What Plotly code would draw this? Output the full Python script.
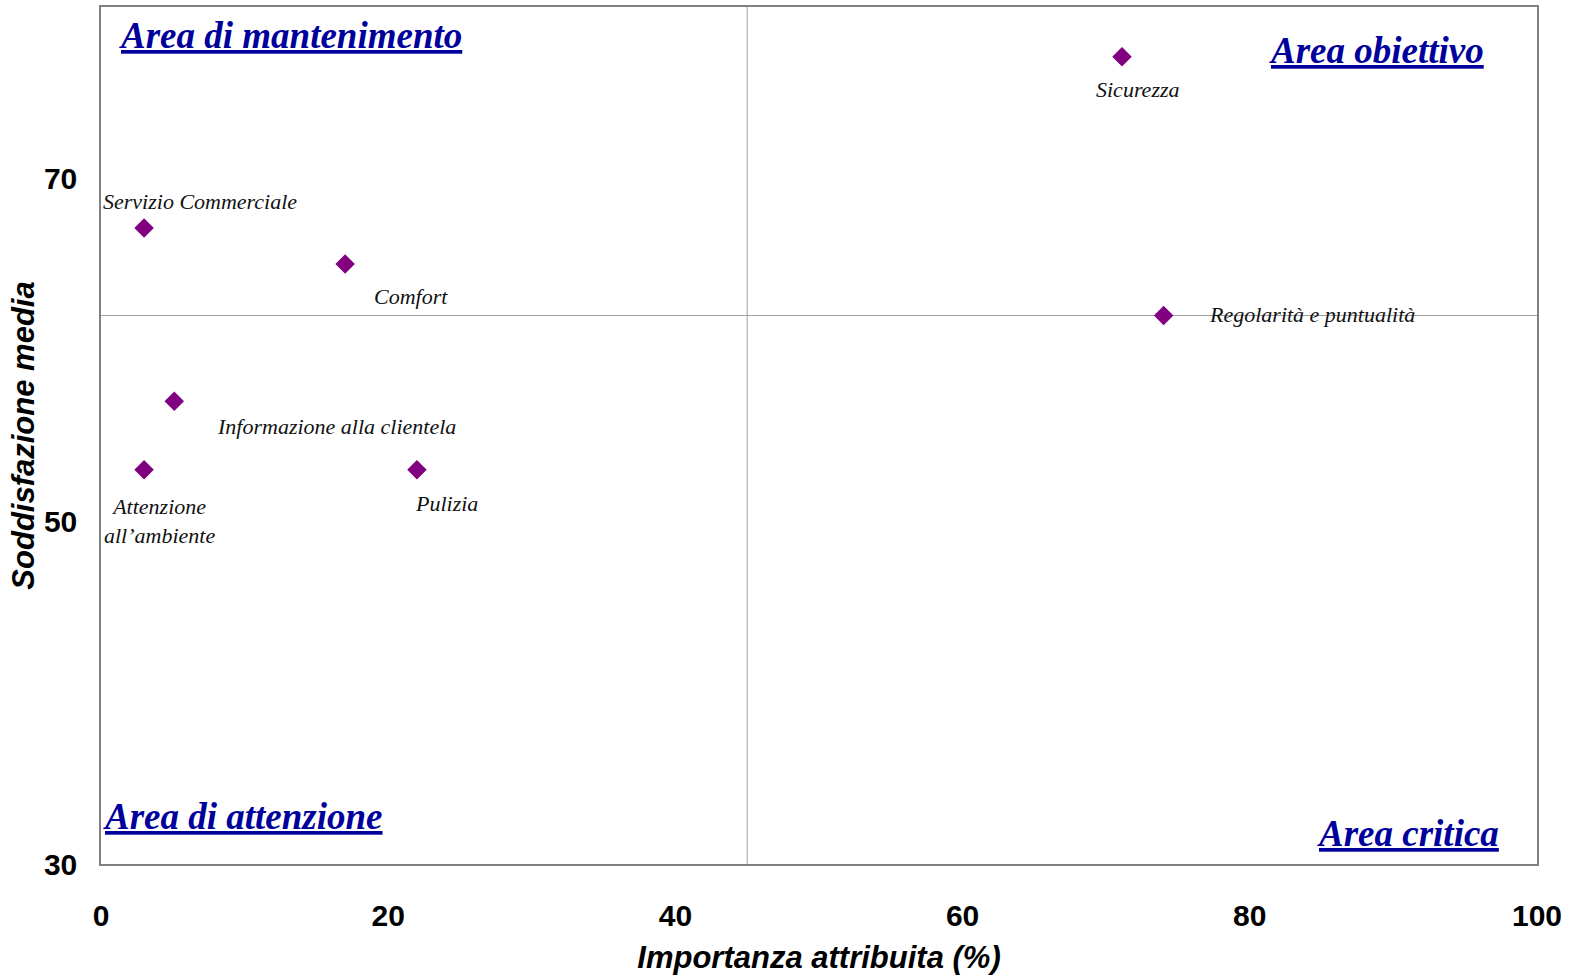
import plotly.graph_objects as go

# Data
labels = ["Sicurezza", "Regolarità e puntualità", "Servizio Commerciale", "Comfort",
          "Informazione alla clientela", "Attenzione<br>all’ambiente", "Pulizia"]
importanza = [71.1, 74.0, 3.0, 17.0, 5.1, 3.0, 22.0]
soddisfazione = [77.1, 62.0, 67.1, 65.0, 57.0, 53.0, 53.0]

x_threshold = 45
y_threshold = 62.0

x_ticks = [0, 20, 40, 60, 80, 100]
y_ticks = [30, 50, 70]

# label offsets (pixels) per point: (xshift, yshift, xanchor)
label_offsets = [(16, -33, "center"), (43, 1, "left"), (56, 27, "center"), (66, -32, "center"),
                 (41, -25, "left"), (15, -51, "center"), (30, -34, "center")]

fig = go.Figure()
fig.add_trace(go.Scatter(
    x=importanza, y=soddisfazione, mode="markers",
    marker=dict(symbol="diamond", size=15, color="#800080"),
    showlegend=False, hoverinfo="skip"))

# quadrant lines
fig.add_shape(type="line", xref="x", yref="paper", x0=x_threshold, x1=x_threshold, y0=0, y1=1,
              line=dict(color="#A0A0A0", width=1), layer="below")
fig.add_shape(type="line", xref="paper", yref="y", x0=0, x1=1, y0=y_threshold, y1=y_threshold,
              line=dict(color="#A0A0A0", width=1), layer="below")

serif = "Liberation Serif"
for lab, xv, yv, (dx, dy, anc) in zip(labels, importanza, soddisfazione, label_offsets):
    fig.add_annotation(x=xv, y=yv, text=lab, showarrow=False, xshift=dx, yshift=dy,
                       xanchor=anc, yanchor="middle", align="center",
                       font=dict(family=serif, size=22, color="#111111", style="italic"))

areas = [("Area di mantenimento", 0.132, 0.967), ("Area obiettivo", 0.888, 0.949),
         ("Area di attenzione", 0.099, 0.056), ("Area critica", 0.910, 0.036)]
for txt, px, py in areas:
    fig.add_annotation(xref="paper", yref="paper", x=px, y=py, text="<u>" + txt + "</u>",
                       showarrow=False, xanchor="center", yanchor="middle",
                       font=dict(family=serif, size=37, color="#00009C", style="italic", weight="bold"))

fig.update_layout(
    width=1573, height=977,
    margin=dict(l=101, r=36, t=5, b=113),
    paper_bgcolor="white", plot_bgcolor="white",
    xaxis=dict(range=[0, 100], tickvals=x_ticks, showgrid=False, zeroline=False,
               showline=True, mirror=True, linecolor="#808080", linewidth=1.5,
               ticks="", ticklabelstandoff=24,
               tickfont=dict(family="Liberation Sans", size=30, color="black", weight="bold"),
               title=dict(text="Importanza attribuita (%)", standoff=16,
                          font=dict(family="Liberation Sans", size=31, color="black",
                                    weight="bold", style="italic"))),
    yaxis=dict(range=[30, 80], tickvals=y_ticks, showgrid=False, zeroline=False,
               showline=True, mirror=True, linecolor="#808080", linewidth=1.5,
               ticks="", ticklabelstandoff=16,
               tickfont=dict(family="Liberation Sans", size=30, color="black", weight="bold"),
               title=dict(text="Soddisfazione media", standoff=0,
                          font=dict(family="Liberation Sans", size=31, color="black",
                                    weight="bold", style="italic"))),
)

fig.write_html("out.html", config={"displayModeBar": False},
               post_script="document.body.style.margin='0';")
